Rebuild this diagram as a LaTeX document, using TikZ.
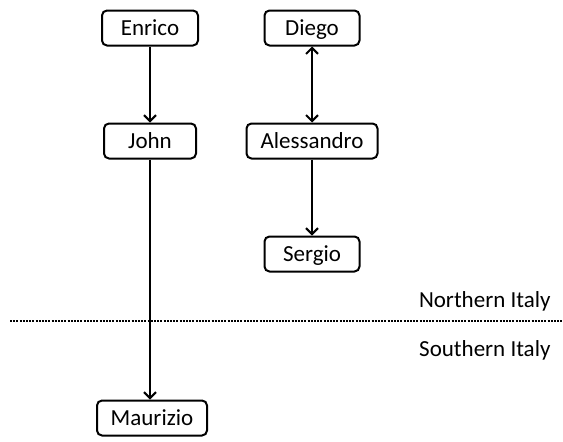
\documentclass[tikz,border=0pt]{standalone}
\usepackage{fontspec}
\setmainfont{Carlito}
\usetikzlibrary{arrows.meta}
\begin{document}
\begin{tikzpicture}[x=1pt,y=-1pt,
  tip/.tip={Straight Barb[length=6pt,width=12pt,line width=2pt]},
  person/.style={draw, line width=2pt, rounded corners=5pt, minimum height=35pt, inner sep=0pt, text height=14.8pt, text depth=0pt, font=\fontsize{23}{25}\selectfont},
  link/.style={line width=2pt, -tip},
  region/.style={font=\fontsize{23}{25}\selectfont, anchor=east}]
\useasboundingbox (0,0) rectangle (563,442);
\node[person, minimum width=96pt] (enrico) at (150,28) {Enrico};
\node[person, minimum width=92pt] (john) at (150,141) {John};
\node[person, minimum width=110pt] (maurizio) at (152,418) {Maurizio};
\node[person, minimum width=95pt] (diego) at (312,28) {Diego};
\node[person, minimum width=131pt] (alessandro) at (312,141) {Alessandro};
\node[person, minimum width=95pt] (sergio) at (312,254) {Sergio};
\draw[link] (enrico) -- (john);
\draw[link] (john.south) -- (john.south |- maurizio.north);
\draw[link, tip-tip] (diego) -- (alessandro);
\draw[link] (alessandro) -- (sergio);
\coordinate (lineL) at (10,321);
\coordinate (lineR) at (563,321);
\draw[line width=2.2pt, dash pattern=on 2pt off 1.2pt] (lineL) -- (lineR);
\node[region] (north) at (554,301) {Northern Italy};
\node[region] (south) at (554,350) {Southern Italy};
\end{tikzpicture}
\end{document}
